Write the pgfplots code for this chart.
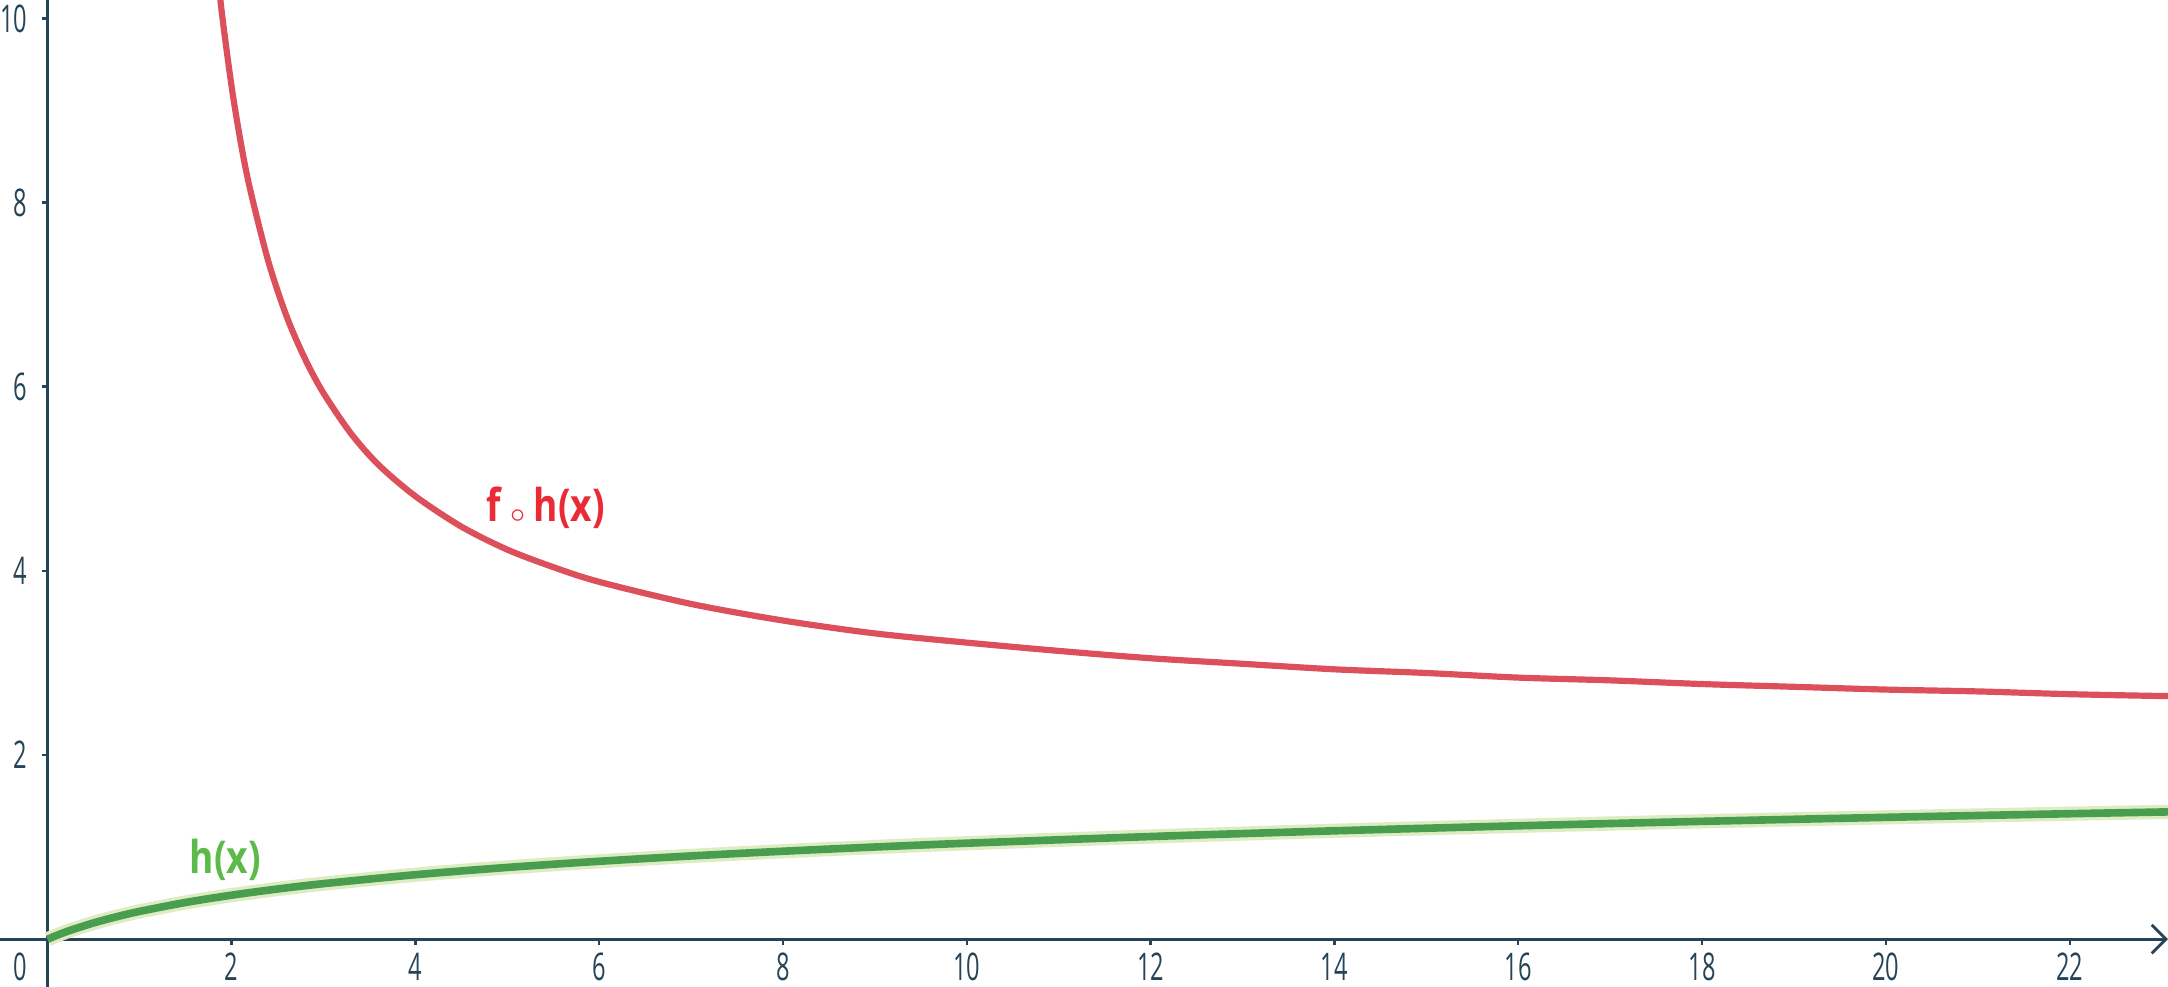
\documentclass[border=0pt]{standalone}
\usepackage{fontspec}
\setmainfont{Open Sans}
\newfontfamily\tickfont{Open Sans}[FakeStretch=0.62]
\newfontfamily\labfont{Open Sans}[FakeStretch=0.82]
\usepackage{pgfplots}
\pgfplotsset{compat=1.18}
\usetikzlibrary{arrows.meta}
\definecolor{axcol}{RGB}{38,68,88}
\definecolor{redline}{RGB}{220,80,92}
\definecolor{redtext}{RGB}{234,42,52}
\definecolor{greenline}{RGB}{72,158,78}
\definecolor{greenhalo}{RGB}{222,236,196}
\definecolor{greentext}{RGB}{92,186,72}
\begin{document}
\begin{tikzpicture}
\begin{axis}[
  scale only axis,
  width=16cm, height=7.284cm,
  xmin=-0.52, xmax=23.07,
  ymin=-0.52, ymax=10.2,
  axis lines=middle,
  clip=true,
  xtick={2,4,...,22},
  ytick={2,4,...,10},
  tick align=outside,
  major tick length=1.3pt,
  tick style={axcol, line width=0.5pt},
  every tick label/.append style={font=\tickfont\fontsize{8}{9}\selectfont, text=axcol},
  /pgf/number format/assume math mode=true,
  xticklabel style={anchor=north, inner sep=0pt, yshift=-1.4pt},
  yticklabel style={anchor=east, inner sep=0pt, xshift=-2.8pt},
  x axis line style={axcol, line width=0.6pt, -{Straight Barb[length=3pt,width=6pt]}},
  y axis line style={axcol, line width=0.6pt, -},
]
% h(x)
\addplot[greenhalo, line width=3pt, smooth] coordinates {
(0,0) (0.1,0.0414) (0.25,0.0969) (0.5,0.1761) (0.75,0.2430) (1,0.3010) (1.5,0.3979)
(2,0.4771) (2.5,0.5441) (3,0.6021) (4,0.6990) (5,0.7782) (6,0.8451) (7,0.9031)
(8,0.9542) (9,1.0) (10,1.0414) (12,1.1139) (14,1.1761) (16,1.2304) (18,1.2788)
(20,1.3222) (22,1.3617) (23.2,1.3838)};
\addplot[greenline, line width=1.6pt, smooth] coordinates {
(0,0) (0.1,0.0414) (0.25,0.0969) (0.5,0.1761) (0.75,0.2430) (1,0.3010) (1.5,0.3979)
(2,0.4771) (2.5,0.5441) (3,0.6021) (4,0.6990) (5,0.7782) (6,0.8451) (7,0.9031)
(8,0.9542) (9,1.0) (10,1.0414) (12,1.1139) (14,1.1761) (16,1.2304) (18,1.2788)
(20,1.3222) (22,1.3617) (23.2,1.3838)};
% f o h(x)
\addplot[redline, line width=1.3pt, smooth] coordinates {
(1.84,10.55) (1.9,10.01) (2.0,9.26) (2.1,8.65) (2.2,8.15) (2.4,7.36) (2.6,6.76)
(2.8,6.30) (3.0,5.93) (3.3,5.49) (3.6,5.15) (4,4.81) (4.5,4.48) (5,4.23) (5.5,4.04)
(6,3.88) (7,3.64) (8,3.46) (9,3.32) (10,3.22) (11,3.13) (12,3.05) (13,2.99)
(14,2.93) (15,2.89) (16,2.84) (17,2.81) (18,2.77) (19,2.74) (20,2.71) (21,2.69)
(22,2.66) (23,2.64) (23.2,2.64)};
\node[text=redtext, font=\labfont\fontsize{9.5}{10}\selectfont\bfseries] at (axis cs:5.42,4.69) {f\,$\scriptscriptstyle\circ$\,h(x)};
\node[text=greentext, font=\labfont\fontsize{9.5}{10}\selectfont\bfseries] at (axis cs:1.93,0.86) {h(x)};
\node[text=axcol, font=\tickfont\fontsize{8}{9}\selectfont, inner sep=0pt, anchor=north east] at (axis cs:-0.22,-0.14) {0};
\end{axis}
\pgfresetboundingbox
\path[use as bounding box] (current axis.south west) rectangle (current axis.north east);
\end{tikzpicture}
\end{document}
